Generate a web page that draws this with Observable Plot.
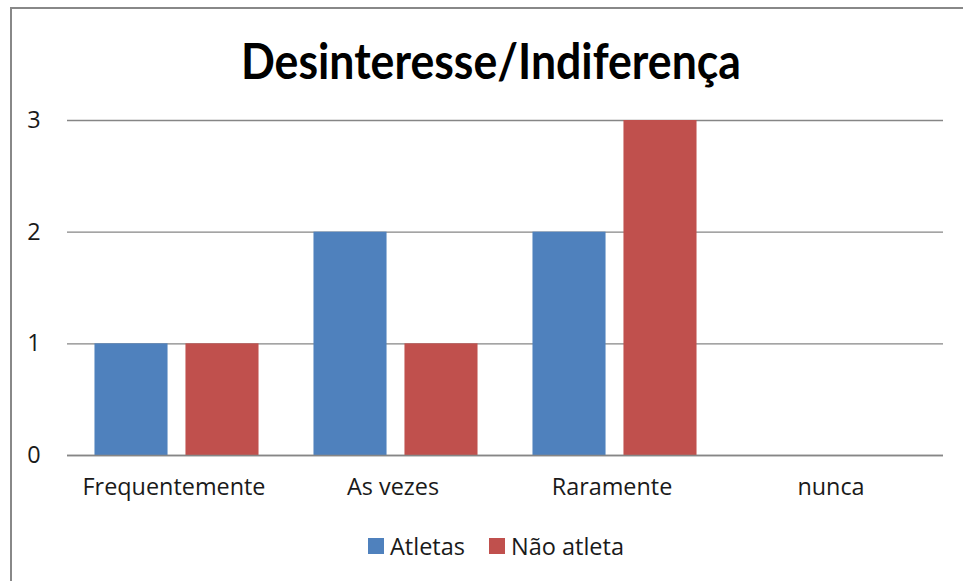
<!DOCTYPE html>
<html><head><meta charset="utf-8">
<script src="https://cdn.jsdelivr.net/npm/d3@7"></script>
<script src="https://cdn.jsdelivr.net/npm/@observablehq/plot@0.6"></script>
<style>
body{margin:0;background:#fff;}
#wrap{position:relative;width:963px;height:581px;overflow:hidden;font-family:"Open Sans",sans-serif;color:#000;}
#frame{position:absolute;left:10px;top:7px;width:1000px;height:620px;border-left:2px solid #888;border-top:2px solid #888;}
#title{position:absolute;top:34px;left:491px;white-space:nowrap;font-family:Lato,"Open Sans",sans-serif;font-weight:bold;font-size:50px;line-height:52px;transform-origin:center center;}
#chart{position:absolute;left:0;top:100px;}
#legend{position:absolute;top:532px;left:0;width:992px;display:flex;justify-content:center;align-items:center;font-size:23.5px;line-height:28px;color:#1a1a1a;}
.sw{display:inline-block;width:16px;height:16px;margin-right:6px;}
.item{display:flex;align-items:center;margin:0 12px;}
</style></head>
<body>
<div id="wrap">
  <div id="frame"></div>
  <div id="title">Desinteresse/Indiferença</div>
  <div id="chart"></div>
  <div id="legend"></div>
</div>
<script>
const titleText = "Desinteresse/Indiferença";
const categories = ["Frequentemente", "As vezes", "Raramente", "nunca"];
const series = ["Atletas", "Não atleta"];
const atletas = [1, 2, 2, 0];
const naoAtleta = [1, 1, 3, 0];
const yTicks = [0, 1, 2, 3];
const colors = ["#4F81BD", "#C0504D"];

const data = [];
categories.forEach((c, i) => {
  data.push({cat: c, serie: series[0], value: atletas[i]});
  data.push({cat: c, serie: series[1], value: naoAtleta[i]});
});

const plot = Plot.plot({
  width: 963,
  height: 415,
  marginLeft: 67,
  marginRight: 20,
  marginTop: 20,
  marginBottom: 60,
  style: {fontFamily: "'Open Sans', sans-serif", fontSize: "23.4px", color: "#1a1a1a", background: "transparent"},
  fx: {domain: categories, padding: 0, round: false, label: null},
  x: {domain: series, paddingInner: 0.197, paddingOuter: 0.302, round: false, axis: null},
  y: {domain: [0, 3], label: null},
  color: {domain: series, range: colors},
  marks: [
    Plot.gridY(yTicks, {stroke: "#868686", strokeOpacity: 1, strokeWidth: 1.3}),
    Plot.axisY(yTicks, {tickSize: 0, tickPadding: 27, label: null, fontSize: 23.4, tickFormat: d3.format("d")}),
    Plot.axisFx({anchor: "bottom", tickSize: 0, tickPadding: 23, label: null, fontSize: 23.4, dx: -3}),
    Plot.barY(data, {fx: "cat", x: "serie", y: "value", fill: "serie"}),
    Plot.ruleY([0], {stroke: "#868686", strokeWidth: 1.3})
  ]
});
document.getElementById("chart").appendChild(plot);

const t = document.getElementById("title");
t.textContent = titleText;
const w = t.getBoundingClientRect().width;
const s = 500 / w;
t.style.transform = `translateX(-50%) scaleX(${s})`;

const lg = document.getElementById("legend");
series.forEach((name, i) => {
  const it = document.createElement("div");
  it.className = "item";
  const sw = document.createElement("span");
  sw.className = "sw";
  sw.style.background = colors[i];
  it.appendChild(sw);
  it.appendChild(document.createTextNode(name));
  lg.appendChild(it);
});
</script>
</body></html>
